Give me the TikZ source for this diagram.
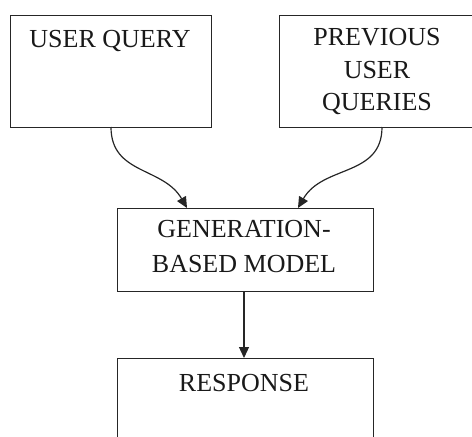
\documentclass[tikz,border=0pt]{standalone}
\usepackage{fontspec}
\setmainfont{Liberation Serif}
\usetikzlibrary{arrows.meta}
\begin{document}
\begin{tikzpicture}[x=1pt,y=1pt,
  box/.style={draw=black!85, line width=1.2pt, anchor=north west, inner sep=0pt},
  lbl/.style={font=\fontsize{26}{32.5}\selectfont, align=center, inner sep=0pt, text=black!90},
  conn/.style={draw=black!85, line width=1.2pt, -{Triangle[length=11pt,width=10pt]}}]
\useasboundingbox (0,0) rectangle (472,-437);
\clip (0,0) rectangle (472,-437);
\node[box, minimum width=201pt, minimum height=112pt] (uq) at (10,-15) {};
\node[box, minimum width=200pt, minimum height=112pt] (pq) at (279,-15) {};
\node[box, minimum width=256pt, minimum height=83pt] (gm) at (117,-208) {};
\node[box, minimum width=256pt, minimum height=85pt] (rs) at (117,-358) {};
\node[lbl, anchor=base] (tuq) at (110,-47.7) {USER QUERY};
\node[lbl, anchor=base] (tpq) at (377,-110.7) {PREVIOUS\\USER\\QUERIES};
\node[lbl, anchor=base, font=\fontsize{26}{35}\selectfont] (tgm) at (244,-272) {GENERATION-\\BASED MODEL};
\node[lbl, anchor=base] (trs) at (244,-391) {RESPONSE};
\coordinate (a1) at (111,-127);
\coordinate (a2) at (382,-127);
\coordinate (e1) at (187,-208);
\coordinate (e2) at (298,-208);
\draw[conn] (a1) to[out=-90,in=120,looseness=1.1] (e1);
\draw[conn] (a2) to[out=-90,in=60,looseness=1.1] (e2);
\draw[conn] (gm.south -| 244,0) -- (rs.north -| 244,0);
\end{tikzpicture}
\end{document}
